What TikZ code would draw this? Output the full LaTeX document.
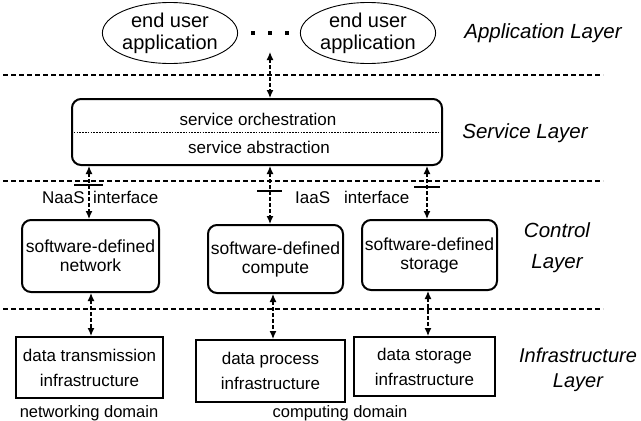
\documentclass[tikz,border=0pt]{standalone}
\usepackage{fontspec}
\setmainfont{Liberation Sans}
\usetikzlibrary{shapes.geometric,arrows.meta}
\begin{document}
\begin{tikzpicture}[x=1pt,y=-1pt,
  sep/.style={dash pattern=on 5pt off 3pt, line width=1.3pt},
  link/.style={dash pattern=on 3.5pt off 2.5pt, line width=1.2pt,
    {Latex[length=8pt,width=7pt]}-{Latex[length=8pt,width=7pt]}},
  boxtext/.style={font=\fontsize{17}{19}\selectfont, align=center, inner sep=0pt},
  ctrlbox/.style={draw, line width=2pt, rounded corners=9pt, inner sep=0pt,
    font=\fontsize{17.5}{19}\selectfont, align=center},
  infrabox/.style={draw, line width=2pt, inner sep=0pt,
    font=\fontsize{17}{25}\selectfont, align=center},
  app/.style={draw, ellipse, line width=0.9pt, inner sep=0pt,
    minimum width=125pt, minimum height=61pt,
    font=\fontsize{20}{22}\selectfont, align=center},
  layer/.style={align=center, inner sep=0pt},
  ifbar/.style={line width=1.3pt},
  plain/.style={font=\fontsize{17}{19}\selectfont, inner sep=0pt}
]
\useasboundingbox (0,0) rectangle (641,421);

% application layer
\node[app] (app1) at (170,33) {end user\\application};
\node[app] (app2) at (368,33) {end user\\application};
\node[minimum width=40pt, minimum height=6pt, inner sep=0pt] (dots) at (270,33) {};
\foreach \px in {253,270,287} \fill (\px-2.2,30.8) rectangle (\px+2.2,35.2);
\node[layer, font=\fontsize{20.5}{24}\selectfont\itshape] (lapp) at (543,33) {Application Layer};

% layer separators
\draw[sep] (3,75) -- (603,75);
\draw[sep] (3,181) -- (603,181);
\draw[sep] (3,309) -- (603,309);

% service layer
\node[draw, line width=2pt, rounded corners=9pt, minimum width=370pt,
      minimum height=66pt, inner sep=0pt] (svc) at (257,132) {};
\draw[dash pattern=on 1.5pt off 1.3pt, line width=1pt] (svc.west) -- (svc.east);
\node[boxtext] (orch) at (258,119) {service orchestration};
\node[boxtext] (abst) at (259,147) {service abstraction};
\node[layer, font=\fontsize{20.5}{24}\selectfont\itshape] (lsvc) at (525,133) {Service Layer};

\coordinate (apptip) at (270,52);
\draw[link] (apptip) -- (svc.north -| apptip);

% control layer
\node[ctrlbox, minimum width=137pt, minimum height=72pt] (c1) at (90.5,256) {software-defined\\network};
\node[ctrlbox, minimum width=135pt, minimum height=68pt] (c2) at (275.5,259) {software-defined\\compute};
\node[ctrlbox, minimum width=135pt, minimum height=70pt] (c3) at (429.5,255) {software-defined\\storage};
\node[layer, font=\fontsize{20.5}{31}\selectfont\itshape] (lctl) at (557,248) {Control\\Layer};

\coordinate (a1) at (89,0);
\coordinate (a2) at (270,0);
\coordinate (a3) at (427,0);
\draw[link] (svc.south -| a1) -- (c1.north -| a1);
\draw[link] (svc.south -| a2) -- (c2.north -| a2);
\draw[link] (svc.south -| a3) -- (c3.north -| a3);

% interface marks and labels
\draw[ifbar] (74,185) -- (103,185);
\draw[ifbar] (257,191) -- (282,191);
\draw[ifbar] (414,187) -- (440,187);
\node[plain, anchor=base west] (naas) at (42,203) {NaaS};
\node[plain, anchor=base west] (nif) at (93,203) {interface};
\node[plain, anchor=base west] (iaas) at (295,203) {IaaS};
\node[plain, anchor=base west] (iif) at (344,203) {interface};

% infrastructure layer
\node[infrabox, minimum width=147pt, minimum height=61pt] (i1) at (89.5,367.5) {data transmission\\infrastructure};
\node[infrabox, minimum width=149pt, minimum height=62pt] (i2) at (270.5,371) {data process\\infrastructure};
\node[infrabox, minimum width=141pt, minimum height=59pt] (i3) at (424.5,366.5) {data storage\\infrastructure};
\node[layer, font=\fontsize{20}{25}\selectfont\itshape] (linf) at (578,369.5) {Infrastructure\\Layer};

\coordinate (b1) at (91,0);
\coordinate (b2) at (273,0);
\coordinate (b3) at (428,0);
\draw[link] (c1.south -| b1) -- (i1.north -| b1);
\draw[link] (c2.south -| b2) -- (i2.north -| b2);
\draw[link] (c3.south -| b3) -- (i3.north -| b3);

% domain captions
\node[plain, font=\fontsize{16.5}{19}\selectfont] (ndom) at (89,413) {networking domain};
\node[plain, font=\fontsize{16.5}{19}\selectfont] (cdom) at (340,413) {computing domain};
\end{tikzpicture}
\end{document}
